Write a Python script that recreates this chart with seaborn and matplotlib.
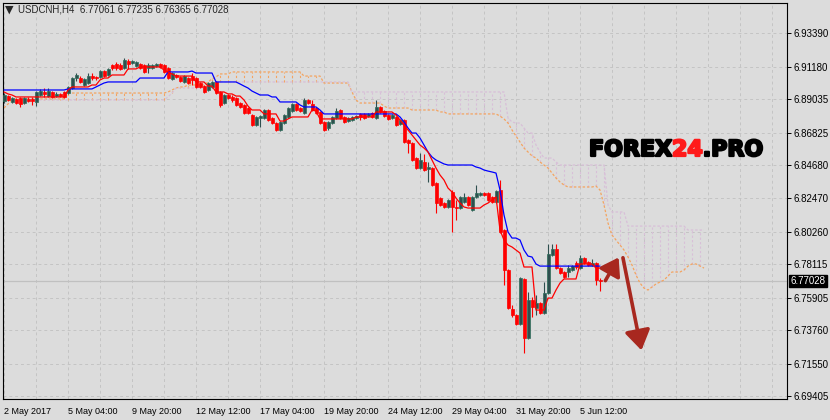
import numpy as np
import pandas as pd
import seaborn as sns
import matplotlib.pyplot as plt
import matplotlib.transforms as mtransforms
import matplotlib.patheffects as pe

# USDCNH H4 candles
opens = [
    6.8890, 6.8923, 6.8884, 6.8904, 6.8910, 6.8877, 6.8904, 6.8904, 6.8884, 6.8930,
    6.8950, 6.8923, 6.8950, 6.8923, 6.8937, 6.8950, 6.8943, 6.8976, 6.9042, 6.9042,
    6.8996, 6.9009, 6.9055, 6.9049, 6.9049, 6.9088, 6.9062, 6.9128, 6.9135, 6.9128,
    6.9108, 6.9154, 6.9141, 6.9121, 6.9135, 6.9128, 6.9108, 6.9108, 6.9121, 6.9135,
    6.9128, 6.9108, 6.9036, 6.9062, 6.9049, 6.9016, 6.9042, 6.9055, 6.9042, 6.9009,
    6.8989, 6.8963, 6.8983, 6.9016, 6.8950, 6.8877, 6.8930, 6.8917, 6.8910, 6.8877,
    6.8864, 6.8844, 6.8798, 6.8732, 6.8778, 6.8778, 6.8831, 6.8778, 6.8745, 6.8699,
    6.8745, 6.8785, 6.8824, 6.8871, 6.8844, 6.8811, 6.8897, 6.8871, 6.8844, 6.8818,
    6.8752, 6.8712, 6.8745, 6.8778, 6.8831, 6.8785, 6.8758, 6.8765, 6.8778, 6.8805,
    6.8805, 6.8791, 6.8811, 6.8778, 6.8851, 6.8824, 6.8798, 6.8778, 6.8785, 6.8739,
    6.8765, 6.8633, 6.8613, 6.8514, 6.8448, 6.8488, 6.8442, 6.8448, 6.8349, 6.8250,
    6.8217, 6.8191, 6.8290, 6.8191, 6.8184, 6.8224, 6.8257, 6.8171, 6.8257, 6.8270,
    6.8283, 6.8283, 6.8257, 6.8224, 6.8303, 6.8039, 6.7775, 6.7518, 6.7478, 6.7419,
    6.7716, 6.7326, 6.7577, 6.7524, 6.7557, 6.7491, 6.7623, 6.7874, 6.7914, 6.7788,
    6.7762, 6.7762, 6.7775, 6.7821, 6.7788, 6.7854, 6.7828, 6.7808, 6.7821, 6.77061,
]
highs = [
    6.8943, 6.8930, 6.8917, 6.8910, 6.8917, 6.8917, 6.8917, 6.8917, 6.8956, 6.8970,
    6.8976, 6.8976, 6.8956, 6.8950, 6.8943, 6.8956, 6.8989, 6.9049, 6.9075, 6.9055,
    6.9042, 6.9075, 6.9075, 6.9055, 6.9095, 6.9095, 6.9108, 6.9135, 6.9148, 6.9141,
    6.9174, 6.9168, 6.9161, 6.9154, 6.9141, 6.9135, 6.9141, 6.9135, 6.9141, 6.9141,
    6.9135, 6.9115, 6.9082, 6.9069, 6.9055, 6.9062, 6.9049, 6.9075, 6.9049, 6.9016,
    6.8996, 6.9016, 6.9022, 6.9022, 6.8956, 6.8937, 6.8937, 6.8930, 6.8917, 6.8884,
    6.8871, 6.8851, 6.8805, 6.8791, 6.8798, 6.8838, 6.8838, 6.8785, 6.8752, 6.8758,
    6.8805, 6.8851, 6.8877, 6.8877, 6.8851, 6.8910, 6.8904, 6.8897, 6.8851, 6.8824,
    6.8758, 6.8758, 6.8791, 6.8844, 6.8838, 6.8791, 6.8785, 6.8791, 6.8798, 6.8811,
    6.8811, 6.8811, 6.8818, 6.8897, 6.8857, 6.8831, 6.8805, 6.8805, 6.8791, 6.8772,
    6.8772, 6.8640, 6.8620, 6.8521, 6.8547, 6.8541, 6.8488, 6.8455, 6.8356, 6.8257,
    6.8224, 6.8244, 6.8303, 6.8237, 6.8263, 6.8283, 6.8263, 6.8263, 6.8336, 6.8290,
    6.8290, 6.8290, 6.8263, 6.8303, 6.8369, 6.8046, 6.7782, 6.7544, 6.7484, 6.7729,
    6.7722, 6.7630, 6.7597, 6.7610, 6.7564, 6.7696, 6.7947, 6.7947, 6.7947, 6.7795,
    6.7768, 6.7808, 6.7808, 6.7834, 6.7874, 6.7861, 6.7834, 6.7848, 6.7828, 6.77235,
]
lows = [
    6.8877, 6.8890, 6.8877, 6.8871, 6.8851, 6.8871, 6.8884, 6.8864, 6.8857, 6.8923,
    6.8917, 6.8917, 6.8910, 6.8917, 6.8917, 6.8910, 6.8937, 6.8970, 6.9022, 6.9009,
    6.8989, 6.9003, 6.9029, 6.9029, 6.9042, 6.9049, 6.9055, 6.9095, 6.9095, 6.9095,
    6.9102, 6.9102, 6.9135, 6.9115, 6.9102, 6.9075, 6.9075, 6.9102, 6.9115, 6.9108,
    6.9075, 6.9036, 6.9029, 6.9042, 6.9016, 6.9009, 6.9003, 6.8996, 6.8976, 6.8976,
    6.8943, 6.8956, 6.8976, 6.8937, 6.8851, 6.8871, 6.8904, 6.8884, 6.8857, 6.8844,
    6.8805, 6.8805, 6.8725, 6.8725, 6.8719, 6.8772, 6.8758, 6.8739, 6.8692, 6.8692,
    6.8739, 6.8778, 6.8818, 6.8824, 6.8818, 6.8805, 6.8871, 6.8824, 6.8805, 6.8739,
    6.8692, 6.8699, 6.8739, 6.8772, 6.8772, 6.8745, 6.8752, 6.8758, 6.8772, 6.8765,
    6.8772, 6.8785, 6.8778, 6.8772, 6.8811, 6.8785, 6.8765, 6.8772, 6.8725, 6.8732,
    6.8613, 6.8547, 6.8494, 6.8442, 6.8442, 6.8428, 6.8356, 6.8329, 6.8151, 6.8197,
    6.8184, 6.8184, 6.8026, 6.8105, 6.8178, 6.8217, 6.8197, 6.8164, 6.8250, 6.8263,
    6.8263, 6.8230, 6.8217, 6.8217, 6.8019, 6.7676, 6.7518, 6.7465, 6.7412, 6.7412,
    6.7227, 6.7320, 6.7465, 6.7478, 6.7484, 6.7484, 6.7617, 6.7867, 6.7782, 6.7749,
    6.7722, 6.7729, 6.7768, 6.7782, 6.7782, 6.7815, 6.7801, 6.7801, 6.7676, 6.76365,
]
closes = [
    6.8930, 6.8897, 6.8910, 6.8877, 6.8871, 6.8910, 6.8890, 6.8890, 6.8950, 6.8956,
    6.8937, 6.8956, 6.8917, 6.8937, 6.8923, 6.8917, 6.8983, 6.9042, 6.9062, 6.9016,
    6.9036, 6.9055, 6.9042, 6.9042, 6.9088, 6.9055, 6.9102, 6.9108, 6.9108, 6.9102,
    6.9161, 6.9135, 6.9154, 6.9148, 6.9108, 6.9082, 6.9128, 6.9128, 6.9135, 6.9115,
    6.9082, 6.9042, 6.9075, 6.9049, 6.9022, 6.9055, 6.9009, 6.9029, 6.8983, 6.8983,
    6.8950, 6.9009, 6.9016, 6.8943, 6.8864, 6.8930, 6.8910, 6.8897, 6.8864, 6.8851,
    6.8811, 6.8811, 6.8732, 6.8785, 6.8791, 6.8831, 6.8765, 6.8745, 6.8699, 6.8752,
    6.8798, 6.8844, 6.8871, 6.8831, 6.8824, 6.8897, 6.8877, 6.8831, 6.8811, 6.8745,
    6.8699, 6.8752, 6.8785, 6.8824, 6.8778, 6.8752, 6.8778, 6.8785, 6.8791, 6.8785,
    6.8778, 6.8805, 6.8785, 6.8851, 6.8818, 6.8791, 6.8772, 6.8798, 6.8732, 6.8765,
    6.8620, 6.8613, 6.8501, 6.8448, 6.8501, 6.8435, 6.8455, 6.8336, 6.8217, 6.8204,
    6.8191, 6.8237, 6.8191, 6.8184, 6.8257, 6.8257, 6.8204, 6.8257, 6.8283, 6.8283,
    6.8270, 6.8237, 6.8224, 6.8296, 6.8026, 6.7775, 6.7524, 6.7478, 6.7419, 6.7722,
    6.7326, 6.7577, 6.7531, 6.7557, 6.7491, 6.7623, 6.7881, 6.7914, 6.7788, 6.7755,
    6.7729, 6.7788, 6.7801, 6.7795, 6.7854, 6.7821, 6.7808, 6.7821, 6.7709, 6.77028,
]

# Ichimoku lines as drawn on the chart
tenkan = (
    [6.8950, 6.8937, 6.8930] + [6.8917] * 13 + [6.8963] + [6.8983] * 5 + [6.8996] * 2
    + [6.9029] + [6.9042] * 2 + [6.9062] * 4 + [6.9102] * 3 + [6.9115] * 6
    + [6.9095, 6.9082, 6.9069] + [6.9055] * 5 + [6.9016] * 3 + [6.8989] * 2
    + [6.8950] * 3 + [6.8937] * 2 + [6.8923] * 2 + [6.8897, 6.8857] + [6.8831] * 3
    + [6.8805] * 4 + [6.8758] * 2 + [6.8772] + [6.8785] * 5 + [6.8831, 6.8824]
    + [6.8772] * 9 + [6.8785] * 5 + [6.8818] * 5
    + [6.8798, 6.8765, 6.8732, 6.8699, 6.8666, 6.8633, 6.8600, 6.8580, 6.8554,
       6.8501, 6.8448, 6.8402, 6.8369, 6.8316, 6.8290, 6.8250, 6.8217, 6.8191]
    + [6.8184] * 4
    + [6.8204, 6.8217, 6.8237, 6.8257, 6.8039, 6.7973, 6.7940, 6.7927, 6.7907, 6.7887]
    + [6.7795] * 3 + [6.7511] * 3 + [6.7590] * 2 + [6.7643, 6.7689] + [6.7716] * 4
    + [6.7815] * 4 + [6.7788] * 2
)
kijun = (
    [6.8963] * 16 + [6.8970] * 7 + [6.8983, 6.8996, 6.9009] + [6.9016] * 8
    + [6.9042] * 7 + [6.9082] * 6 + [6.9088] + [6.9075] * 5 + [6.9016] * 6
    + [6.9003, 6.8989, 6.8976, 6.8956, 6.8943] + [6.8930] * 3 + [6.8917] * 2
    + [6.8884] * 5 + [6.8864] + [6.8851] * 4 + [6.8831] + [6.8805] * 19
    + [6.8785, 6.8752, 6.8712] + [6.8679] * 2
    + [6.8646, 6.8600, 6.8554, 6.8521, 6.8501, 6.8488, 6.8475] + [6.8468] * 7
    + [6.8455, 6.8448, 6.8435, 6.8428, 6.8422, 6.8415, 6.8303, 6.8138, 6.8026]
    + [6.7986] * 2 + [6.7973, 6.7907, 6.7867, 6.7861, 6.7815] + [6.7801] * 16
)
span_a = (
    [6.8844, 6.8871, 6.8890] + [6.8904] * 13 + [6.8943] * 25 + [6.8950, 6.8963, 6.8976]
    + [6.8983] * 2 + [6.8996] * 5 + [6.9016, 6.9036, 6.9049] + [6.9069] * 3
    + [6.9082] * 18 + [6.9055] * 5 + [6.9009] * 7 + [6.8950, 6.8897] + [6.8877] * 6
    + [6.8857] + [6.8844] * 6 + [6.8831] * 7 + [6.8818] * 2 + [6.8805] * 13
    + [6.8791, 6.8772, 6.8745, 6.8699, 6.8659, 6.8620, 6.8580, 6.8554, 6.8528,
       6.8514, 6.8488, 6.8468, 6.8448, 6.8415, 6.8382, 6.8356, 6.8336]
    + [6.8323] * 7 + [6.8329, 6.8303]
    + [6.8204, 6.8085, 6.8006, 6.7973, 6.7940, 6.7907, 6.7861, 6.7808, 6.7742,
       6.7689, 6.7656, 6.7643, 6.7663, 6.7683, 6.7696, 6.7709, 6.7735]
    + [6.7762] * 3 + [6.7775, 6.7801] + [6.7815] * 2 + [6.7801, 6.7788]
)
span_b = (
    [6.8897] * 41 + [6.8917, 6.8943] + [6.8976] * 9 + [6.8996] + [6.9016] * 34
    + [6.8950] * 39 + [6.8778, 6.8752] + [6.8745] * 2 + [6.8712] + [6.8679] * 2
    + [6.8600, 6.8554] + [6.8514] * 3 + [6.8488] + [6.8468] * 12 + [6.8204]
    + [6.8158] * 4 + [6.8065] * 15 + [6.8039] * 5
)

price_ticks = [6.93390, 6.91180, 6.89035, 6.86825, 6.84680, 6.82470,
               6.80260, 6.78115, 6.75905, 6.73760, 6.71550, 6.69405]
time_labels = ["2 May 2017", "5 May 04:00", "9 May 20:00", "12 May 12:00",
               "17 May 04:00", "19 May 20:00", "24 May 12:00", "29 May 04:00",
               "31 May 20:00", "5 Jun 12:00"]
header = "USDCNH,H4  6.77061 6.77235 6.76365 6.77028"
last_price = 6.77028

BG = "#DCDCDC"
BULL = "#2F4F4F"
BEAR = "#FF0000"
ARROW = "#A8281F"

sns.set_style("white", rc={"axes.facecolor": BG, "figure.facecolor": BG,
                           "axes.edgecolor": "black"})
plt.rcParams["font.family"] = ["Liberation Sans", "DejaVu Sans"]

fig = plt.figure(figsize=(8.3, 4.2), dpi=100)
ax = fig.add_axes([2.5 / 830, 20.7 / 420, 784.5 / 830, 396.6 / 420])

bars = np.arange(len(closes))
cloud_x = np.arange(len(span_a))
candles = pd.DataFrame({"bar": bars, "open": opens, "high": highs,
                        "low": lows, "close": closes})
candles["bull"] = candles["close"] >= candles["open"]
lines = pd.DataFrame({"bar": bars, "tenkan": tenkan, "kijun": kijun})
cloud = pd.DataFrame({"bar": cloud_x, "a": span_a, "b": span_b})

# cloud hatching
for _, row in cloud.iloc[::2].iterrows():
    col = "#F4A460" if row["a"] > row["b"] else "#D8BFD8"
    ax.vlines(row["bar"], min(row["a"], row["b"]), max(row["a"], row["b"]),
              colors=col, linestyles=(0, (2, 2)), lw=0.8, zorder=1)

sns.lineplot(data=cloud, x="bar", y="a", color="#F4A460", lw=0.9,
             linestyle=(0, (2, 1.5)), ax=ax, zorder=2)
sns.lineplot(data=cloud, x="bar", y="b", color="#D8BFD8", lw=0.9,
             linestyle=(0, (2, 1.5)), ax=ax, zorder=2)

ax.axhline(last_price, color="#C0C0C0", lw=0.9, zorder=1)

# candles
body_lo = candles[["open", "close"]].min(axis=1)
body_h = (candles["close"] - candles["open"]).abs().clip(lower=0.00018)
cols = np.where(candles["bull"], BULL, BEAR)
edges = np.where(candles["bull"], "#2E6E5A", BEAR)
ax.vlines(candles["bar"], candles["low"], candles["high"], colors=cols, lw=0.8, zorder=3)
ax.bar(candles["bar"], body_h, bottom=body_lo, width=0.75, color=cols,
       edgecolor=edges, lw=0.5, zorder=4)

sns.lineplot(data=lines, x="bar", y="kijun", color="#0000FF", lw=0.9, ax=ax, zorder=5)
sns.lineplot(data=lines, x="bar", y="tenkan", color="#FF0000", lw=0.9, ax=ax, zorder=6)

ax.set_xlim(-0.375, 195.75)
ax.set_ylim(6.6922, 6.9539)
ax.set_xlabel("")
ax.set_ylabel("")

ax.set_xticks(np.arange(0, 145, 16))
ax.set_xticklabels(time_labels, fontsize=6.5)
ax.set_xticks(np.arange(0, 196, 8), minor=True)
ax.set_yticks(price_ticks)
ax.set_yticklabels([f"{v:.5f}" for v in price_ticks], fontsize=7)
ax.yaxis.tick_right()
ax.tick_params(axis="y", which="major", direction="out", length=3, width=0.7,
               pad=2, colors="black", left=False, right=True)
ax.tick_params(axis="x", which="major", direction="out", length=4, width=0.7,
               pad=1.5, colors="black")
ax.tick_params(axis="x", which="minor", length=0)
for lab in ax.get_xticklabels():
    lab.set_horizontalalignment("left")
ax.grid(True, which="both", color="#C4C4C4", linestyle=(0, (3, 3)), lw=0.7)
ax.set_axisbelow(True)
for sp in ax.spines.values():
    sp.set_linewidth(0.8)
    sp.set_color("black")

ax.annotate(f"{last_price:.5f}", xy=(1, last_price),
            xycoords=("axes fraction", "data"), xytext=(2.5, 0),
            textcoords="offset points", ha="left", va="center", color="white",
            fontsize=7, annotation_clip=False,
            bbox=dict(boxstyle="square,pad=0.15", fc="black", ec="black"))

# forecast arrows
ax.annotate("", xy=(154.0, 6.7874), xytext=(150.0, 6.7689),
            arrowprops=dict(arrowstyle="-|>,head_length=0.75,head_width=0.5",
                            color=ARROW, lw=2.6, mutation_scale=14), zorder=7)
ax.annotate("", xy=(159.5, 6.7227), xytext=(154.6, 6.7874),
            arrowprops=dict(arrowstyle="-|>,head_length=0.85,head_width=0.55",
                            color=ARROW, lw=2.6, mutation_scale=14), zorder=7)

# header
fig.text(5 / 830, 1 - 10 / 420, "\u25bc", fontsize=8, va="center", ha="left",
         family=["DejaVu Sans"])
fig.text(18 / 830, 1 - 10 / 420, header, fontsize=7, va="center", ha="left")

# watermark
renderer = fig.canvas.get_renderer()
ident = mtransforms.IdentityTransform()
parts = [("FOREX", "black"), ("24", "#FF1A1A"), (".PRO", "black")]
size = 16
probe = [fig.text(0, 0, s, fontsize=size, fontweight="bold", family="DejaVu Sans",
                  transform=ident) for s, _ in parts]
total = sum(t.get_window_extent(renderer).width for t in probe)
for t in probe:
    t.remove()
size = size * 174 / total
x = 589
for s, col in parts:
    t = fig.text(x, 420 - 150, s, fontsize=size, fontweight="bold",
                 family="DejaVu Sans", color=col, va="center", ha="left",
                 transform=ident, zorder=8,
                 path_effects=[pe.withStroke(linewidth=1.6, foreground=col)])
    x += t.get_window_extent(renderer).width

fig.savefig("out.png", dpi=100, facecolor=fig.get_facecolor())
